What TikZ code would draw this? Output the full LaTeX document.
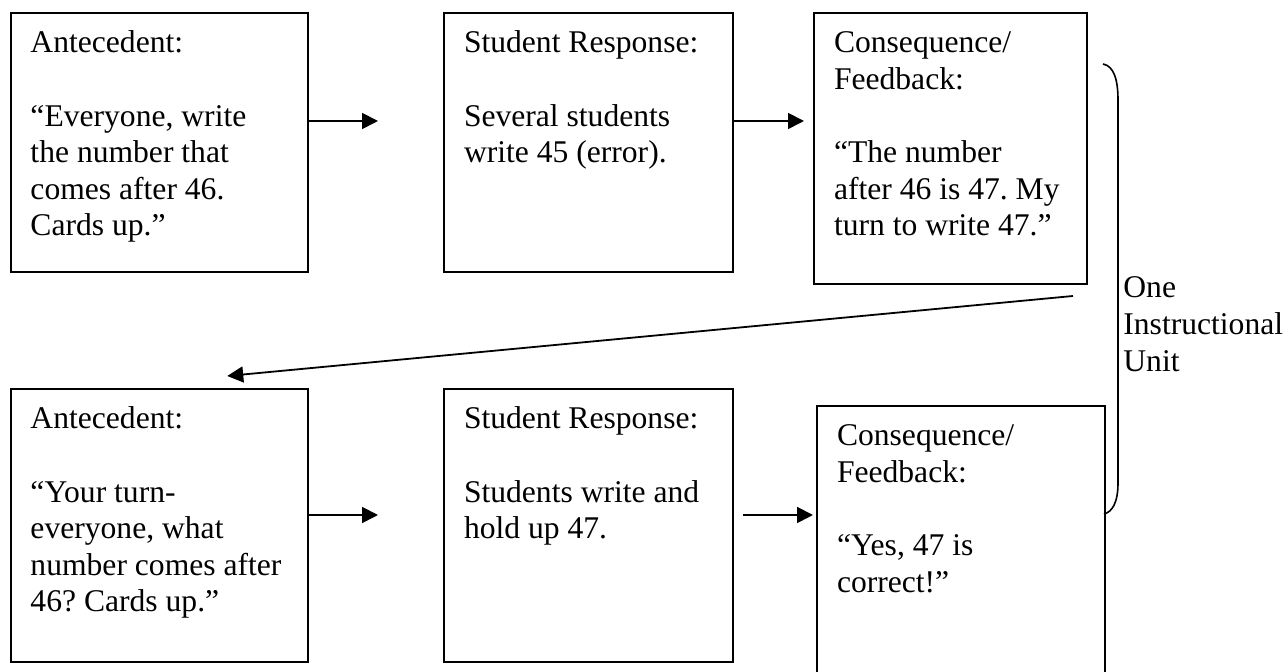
\documentclass[tikz,border=0pt]{standalone}
\usepackage{fontspec}
\setmainfont{Liberation Serif}
\usetikzlibrary{arrows.meta,calc}
\frenchspacing
% Text of one card: width, height, lines
\newcommand{\cardText}[3]{\parbox[t][#2][t]{#1}{\raggedright\rule{0pt}{20pt}#3}}
\tikzset{
  cardBox/.style = {draw, line width=1pt, inner xsep=10pt, inner ysep=0pt,
    anchor=north west, font=\fontsize{15.8pt}{18.3pt}\selectfont},
  flowArrow/.style = {line width=0.9pt, -{Triangle[length=8pt,width=8pt]}},
  braceLine/.style = {line width=0.8pt}
}
\begin{document}
\begin{tikzpicture}[x=0.5pt, y=-0.5pt]
    % Page of the diagram
    \useasboundingbox (0,0) rectangle (1287,672);
    % First unit (top row)
    \node[cardBox] (antOne) at (9.5,12)
      {\cardText{128.75pt}{129.5pt}{Antecedent:\\[18.3pt]
       “Everyone, write\\ the number that\\ comes after 46.\\ Cards up.”}};
    \node[cardBox] (respOne) at (443,12)
      {\cardText{124.5pt}{129.5pt}{Student Response:\\[18.3pt]
       Several students\\ write 45 (error).}};
    \node[cardBox] (consOne) at (813,12)
      {\cardText{116.5pt}{135.5pt}{Consequence/\\ Feedback:\\[18.3pt]
       “The number\\ after 46 is 47. My\\ turn to write 47.”}};
    % Second unit (bottom row)
    \node[cardBox] (antTwo) at (9.5,388)
      {\cardText{128.75pt}{136.5pt}{Antecedent:\\[18.3pt]
       “Your turn-\\ everyone, what\\ number comes after\\ 46? Cards up.”}};
    \node[cardBox] (respTwo) at (443,388)
      {\cardText{124.5pt}{136.5pt}{Student Response:\\[18.3pt]
       Students write and\\ hold up 47.}};
    \node[cardBox] (consTwo) at (816,405)
      {\cardText{124pt}{137.5pt}{Consequence/\\ Feedback:\\[18.3pt]
       “Yes, 47 is\\ correct!”}};
    % Arrows in the top row
    \draw[flowArrow] ($(antOne.north east)+(0,109)$) -- ($(respOne.north west)+(-65,109)$);
    \draw[flowArrow] ($(respOne.north east)+(0,109)$) -- ($(consOne.north west)+(-9,109)$);
    % Arrow back to the start of the bottom row
    \draw[flowArrow] ($(consOne.south east)+(-15,11)$) -- ($(antTwo.north)+(68,-12)$);
    % Arrows in the bottom row
    \draw[flowArrow] ($(antTwo.north east)+(0,127)$) -- ($(respTwo.north west)+(-65,127)$);
    \draw[flowArrow] ($(respTwo.north east)+(9,127)$) -- ($(consTwo.west |- respTwo.north)+(-3,127)$);
    % Brace round the right side
    \draw[braceLine] (1103,64) .. controls (1114,66) and (1118,80) .. (1118,100)
      -- (1118,483) .. controls (1118,503) and (1112,512) .. (1104,514);
    \node[anchor=north west, inner sep=0pt, align=left,
      font=\fontsize{15.8pt}{18.5pt}\selectfont] (unitLabel) at (1123,276)
      {One\\Instructional\\Unit};
\end{tikzpicture}
\end{document}
